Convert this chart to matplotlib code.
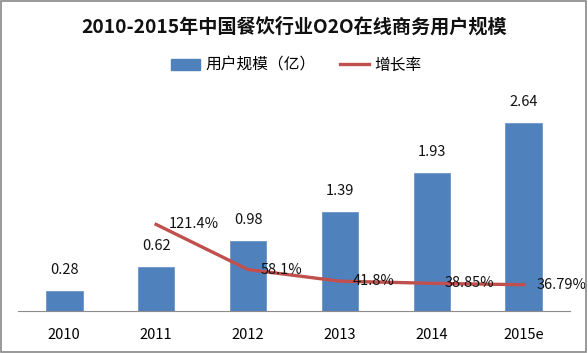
import matplotlib
matplotlib.use("Agg")
import matplotlib.pyplot as plt
from matplotlib.patches import Rectangle
from matplotlib.lines import Line2D

plt.rcParams["font.family"] = ["Noto Sans CJK SC", "DejaVu Sans"]

# ── Data ──────────────────────────────────────────────────────────────────────
years = ["2010", "2011", "2012", "2013", "2014", "2015e"]
users = [0.28, 0.62, 0.98, 1.39, 1.93, 2.64]          # 用户规模（亿）
growth_years = ["2011", "2012", "2013", "2014", "2015e"]
growth = [121.4, 58.1, 41.8, 38.85, 36.79]            # 增长率 (%)
growth_labels = ["121.4%", "58.1%", "41.8%", "38.85%", "36.79%"]

BAR_COLOR = "#4F81BD"
LINE_COLOR = "#C0504D"

fig = plt.figure(figsize=(5.88, 3.53), dpi=100)
fig.patches.append(Rectangle((0.002, 0.003), 0.995, 0.994, transform=fig.transFigure,
                             fill=False, edgecolor="#888888", linewidth=1.2))

ax = fig.add_axes([0.031, 0.119, 0.938, 0.606])
x = list(range(len(years)))
ax.bar(x, users, width=0.4, color=BAR_COLOR, edgecolor="#6C93C9", linewidth=0.6)
for xi, v in zip(x, users):
    ax.annotate(f"{v:.2f}", (xi, v), textcoords="offset points", xytext=(0, 10),
                ha="center", va="bottom", fontsize=10.5, color="#111111")

ax.set_xlim(-0.5, len(years) - 0.5)
ax.set_ylim(0, 3.0)
ax.set_xticks(x)
ax.set_xticklabels(years, fontsize=10.5)
ax.tick_params(axis="x", length=0, pad=12)
ax.set_yticks([])
for s in ["top", "right", "left"]:
    ax.spines[s].set_visible(False)
ax.spines["bottom"].set_color("#8C8C8C")

ax2 = ax.twinx()
gx = [years.index(y) for y in growth_years]
ax2.plot(gx, growth, color=LINE_COLOR, linewidth=2.4, solid_joinstyle="round")
for xi, v, lab in zip(gx, growth, growth_labels):
    ax2.annotate(lab, (xi, v), textcoords="offset points", xytext=(9, 0),
                 ha="left", va="center", fontsize=10.5, color="#111111")
ax2.set_ylim(0, 300)
ax2.set_yticks([])
for s in ax2.spines.values():
    s.set_visible(False)

fig.text(0.5, 0.923, "2010-2015年中国餐饮行业O2O在线商务用户规模", ha="center",
         va="center", fontsize=13.8, fontweight="bold", color="#111111")

handles = [Rectangle((0, 0), 1, 1, color=BAR_COLOR),
           Line2D([0], [0], color=LINE_COLOR, linewidth=2.4)]
fig.legend(handles, ["用户规模（亿）", "增长率"], loc="center",
           bbox_to_anchor=(0.504, 0.815), ncol=2, frameon=False, fontsize=11.3,
           handlelength=1.85, handletextpad=0.3, columnspacing=1.6)

fig.savefig("out.png", dpi=100)
